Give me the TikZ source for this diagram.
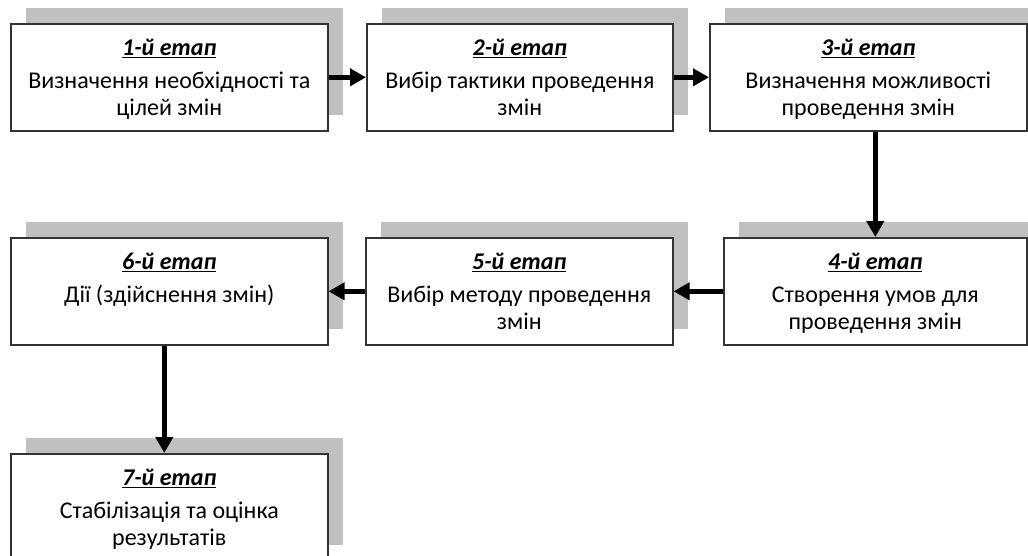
\documentclass[tikz,border=0pt]{standalone}
\usepackage{fontspec}
\setmainfont{Carlito}
\usetikzlibrary{arrows.meta,positioning,shadows}
\definecolor{shadegray}{RGB}{192,192,192}
\tikzset{
  stagebox/.style={draw=black!80, line width=1.6pt, fill=white, anchor=north west,
    minimum height=107pt, inner sep=0pt, align=center,
    text height=83pt, text depth=6pt,
    font=\fontsize{24}{27}\selectfont,
    general shadow={fill=shadegray, shadow xshift=15.5pt, shadow yshift=15.5pt}},
  flow/.style={line width=4.5pt, -{Triangle[length=16pt,width=17pt]}}
}
\newcommand{\etap}[1]{\underline{\textbf{\textit{#1}}}}

\begin{document}
\begin{tikzpicture}[x=1pt,y=-1pt]
\path[use as bounding box, clip] (0,0) rectangle (1028,555);
% top row
\node[stagebox, minimum width=317pt] (s1) at (10,23) {\etap{1-й етап}\\[6pt] Визначення необхідності та\\ цілей змін};
\node[stagebox, minimum width=306pt] (s2) at (366,23) {\etap{2-й етап}\\[6pt] Вибір тактики проведення\\ змін};
\node[stagebox, minimum width=317pt] (s3) at (709,23) {\etap{3-й етап}\\[6pt] Визначення можливості\\ проведення змін};
% middle row
\node[stagebox, minimum width=303pt] (s4) at (723,237) {\etap{4-й етап}\\[6pt] Створення умов для\\ проведення змін};
\node[stagebox, minimum width=307pt] (s5) at (365,237) {\etap{5-й етап}\\[6pt] Вибір методу проведення\\ змін};
\node[stagebox, minimum width=317pt] (s6) at (10,237) {\etap{6-й етап}\\[6pt] Дії (здійснення змін)\\ \strut};
% last one
\node[stagebox, minimum width=317pt] (s7) at (10,453) {\etap{7-й етап}\\[6pt] Стабілізація та оцінка\\ результатів};

\draw[flow] (s1) -- (s2);
\draw[flow] (s2) -- (s3);
\draw[flow] (s4.north |- s3.south) -- (s4.north);
\draw[flow] (s4) -- (s5);
\draw[flow] (s5) -- (s6);
\draw[flow] ([xshift=-5pt]s6.south) -- ([xshift=-5pt]s7.north);
\end{tikzpicture}
\end{document}
